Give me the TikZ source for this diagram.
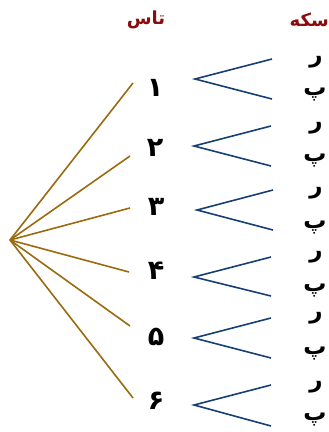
\documentclass[tikz,border=0pt]{standalone}
\usepackage{fontspec}
\TeXXeTstate=1
\newfontfamily\arabicfont[Script=Arabic]{DejaVu Sans}
\definecolor{tanline}{HTML}{9A6A0E}
\definecolor{forkblue}{HTML}{173F73}
\definecolor{titlered}{HTML}{8A0C0C}
\begin{document}
\begin{tikzpicture}[x=1pt,y=-1pt,
  tanedge/.style={draw=tanline,line width=1.6pt},
  forkedge/.style={draw=forkblue,line width=1.6pt},
  digit/.style={font=\arabicfont\fontsize{27}{27}\selectfont\bfseries,inner sep=0pt},
  coin/.style={font=\arabicfont\fontsize{23}{23}\selectfont\bfseries,inner sep=0pt},
  titletext/.style={font=\arabicfont\fontsize{18}{18}\selectfont\bfseries,text=titlered,inner sep=0pt}]
\useasboundingbox (0,0) rectangle (329,432);
\clip (0,0) rectangle (329,432);
% titles
\node[titletext] (tdie) at (146,20) {\beginR تاس\endR};
\node[titletext,anchor=east] (tcoin) at (329,20) {\beginR سکه\endR};
% root
\coordinate (root) at (10,240);
% tan branch ends
\coordinate (e1) at (133,83);
\coordinate (e2) at (130,156);
\coordinate (e3) at (130,208);
\coordinate (e4) at (129,272);
\coordinate (e5) at (130,326);
\coordinate (e6) at (133,398);
\foreach \i in {1,...,6} \draw[tanedge] (root) -- (e\i);
% digits
\node[digit] (d1) at (155,88) {۱};
\node[digit] (d2) at (155,148) {۲};
\node[digit] (d3) at (156,207) {۳};
\node[digit] (d4) at (156,271) {۴};
\node[digit] (d5) at (156,337) {۵};
\node[digit] (d6) at (156,401) {۶};
% forks
\coordinate (f1) at (195,79);  \coordinate (u1) at (272,59);  \coordinate (l1) at (272,99);
\coordinate (f2) at (194,146); \coordinate (u2) at (271,126); \coordinate (l2) at (271,166);
\coordinate (f3) at (197,210); \coordinate (u3) at (273,190); \coordinate (l3) at (273,230);
\coordinate (f4) at (194,277); \coordinate (u4) at (271,257); \coordinate (l4) at (271,296);
\coordinate (f5) at (194,338); \coordinate (u5) at (271,318); \coordinate (l5) at (271,358);
\coordinate (f6) at (194,405); \coordinate (u6) at (271,385); \coordinate (l6) at (271,426);
\foreach \i in {1,...,6} \draw[forkedge] (u\i) -- (f\i) -- (l\i);
% coin labels
\node[coin] (r1) at (316,62) {ر};
\node[coin] (p1) at (315,95) {پ};
\node[coin] (r2) at (316,128) {ر};
\node[coin] (p2) at (315,161) {پ};
\node[coin] (r3) at (316,193) {ر};
\node[coin] (p3) at (315,228) {پ};
\node[coin] (r4) at (316,257) {ر};
\node[coin] (p4) at (315,291) {پ};
\node[coin] (r5) at (316,318) {ر};
\node[coin] (p5) at (315,354) {پ};
\node[coin] (r6) at (316,387) {ر};
\node[coin] (p6) at (315,420) {پ};
\end{tikzpicture}
\end{document}
